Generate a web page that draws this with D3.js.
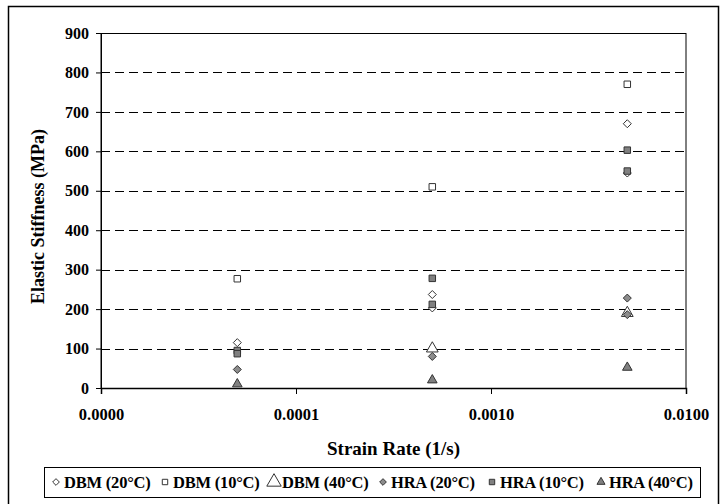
<!doctype html>
<html>
<head>
  <meta charset="utf-8">
  <title>d3</title>
  <style>
    body { margin: 0; background: #fff; }
    text { font-family: "Liberation Serif", "Times New Roman", serif; font-weight: bold; }
  </style>
</head>
<body>
  <svg width="727" height="504"></svg>
  <script src="https://cdn.jsdelivr.net/npm/d3@7"></script>
  <script>
    // strain rates tested (1/s)
    const rates = [0.00005, 0.0005, 0.005];
    const xTicks = [0.00001, 0.0001, 0.001, 0.01];
    const yTicks = [0, 100, 200, 300, 400, 500, 600, 700, 800, 900];

    // values per rate, one list per rate (replicates)
    const dbm20 = [[115], [237, 203], [670, 545]];
    const dbm10 = [[277], [510], [770]];
    const dbm40 = [[], [100], [190]];
    const hra20 = [[47], [80], [228, 186]];
    const hra10 = [[95, 87], [278, 212], [603, 550]];
    const hra40 = [[10], [20], [52]];

    // square diamond (Excel style), symmetric
    const diamond = {
      draw(ctx, size) {
        const r = Math.sqrt(size / 2);
        ctx.moveTo(0, -r); ctx.lineTo(r, 0); ctx.lineTo(0, r); ctx.lineTo(-r, 0); ctx.closePath();
      }
    };

    const series = [
      { name: 'DBM (20°C)', values: dbm20, shape: diamond, size: 32, fill: '#fff' },
      { name: 'DBM (10°C)', values: dbm10, shape: d3.symbolSquare, size: 42, fill: '#fff' },
      { name: 'DBM (40°C)', values: dbm40, shape: d3.symbolTriangle, size: 60, fill: '#fff' },
      { name: 'HRA (20°C)', values: hra20, shape: diamond, size: 32, fill: '#8c8c8c' },
      { name: 'HRA (10°C)', values: hra10, shape: d3.symbolSquare, size: 42, fill: '#808080' },
      { name: 'HRA (40°C)', values: hra40, shape: d3.symbolTriangle, size: 40, fill: '#808080' }
    ];

    const svg = d3.select('svg');

    // outer frame
    svg.append('rect')
      .attr('x', 8.5).attr('y', 6.5).attr('width', 710).attr('height', 500)
      .attr('fill', 'none').attr('stroke', '#000').attr('stroke-width', 1.5);

    const margin = { top: 33, left: 101, bottom: 116, right: 41 };
    const width = 727 - margin.left - margin.right;
    const height = 504 - margin.top - margin.bottom;
    const g = svg.append('g').attr('transform', `translate(${margin.left}, ${margin.top})`);

    const x = d3.scaleLog().domain([0.00001, 0.01]).range([0, width]);
    const y = d3.scaleLinear().domain([0, 900]).range([height, 0]);

    // dashed grid
    g.append('g')
      .selectAll('line')
      .data(yTicks.filter(d => d > 0 && d < 900))
      .join('line')
      .attr('x1', 0).attr('x2', width)
      .attr('y1', d => Math.round(y(d)) + 0.5).attr('y2', d => Math.round(y(d)) + 0.5)
      .attr('stroke', '#000')
      .attr('stroke-dasharray', '9,5');

    // plot frame
    g.append('rect')
      .attr('x', 0).attr('y', 0.5).attr('width', width).attr('height', height)
      .attr('fill', 'none').attr('stroke', '#000');

    // x axis
    g.append('g')
      .attr('transform', `translate(0, ${height})`)
      .call(d3.axisBottom(x).tickValues(xTicks).tickFormat(d3.format('.4f')).tickSizeOuter(0).tickSize(6).tickPadding(14))
      .call(a => a.select('.domain').attr('stroke-width', 1.5))
      .selectAll('text').attr('font-size', 16.5).attr('fill', '#000');

    // y axis
    g.append('g')
      .call(d3.axisLeft(y).tickValues(yTicks).tickSizeOuter(0).tickSize(5).tickPadding(7))
      .selectAll('text').attr('font-size', 16).attr('fill', '#000');

    // points
    series.forEach(s => {
      const pts = [];
      s.values.forEach((vals, i) => vals.forEach(v => pts.push({ rate: rates[i], v })));
      g.append('g')
        .selectAll('path')
        .data(pts)
        .join('path')
        .attr('transform', d => `translate(${x(d.rate)}, ${y(d.v)})`)
        .attr('d', d3.symbol().type(s.shape).size(s.size))
        .attr('fill', s.fill)
        .attr('stroke', '#333')
        .attr('stroke-width', 1);
    });

    // axis titles
    svg.append('text')
      .attr('x', margin.left + width / 2).attr('y', 455)
      .attr('text-anchor', 'middle').attr('font-size', 19)
      .text('Strain Rate (1/s)');
    svg.append('text')
      .attr('transform', `translate(44, ${margin.top + height / 2 + 6}) rotate(-90)`)
      .attr('text-anchor', 'middle').attr('font-size', 18)
      .text('Elastic Stiffness (MPa)');

    // legend
    const legend = svg.append('g');
    legend.append('rect')
      .attr('x', 44.5).attr('y', 467.5).attr('width', 656).attr('height', 30)
      .attr('fill', '#fff').attr('stroke', '#000');
    const itemX = d3.scalePoint().domain(series.map(s => s.name)).range([56, 601]);
    const items = legend.selectAll('g.item')
      .data(series)
      .join('g')
      .attr('class', 'item')
      .attr('transform', s => `translate(${itemX(s.name)}, 482)`);
    items.append('path')
      .attr('d', s => d3.symbol().type(s.shape).size(s.fill === '#fff' && s.shape === d3.symbolTriangle ? 90 : s.size * 0.7)())
      .attr('fill', s => s.fill)
      .attr('stroke', '#333');
    items.append('text')
      .attr('x', 8).attr('y', 5.5)
      .attr('font-size', 16.5)
      .attr('letter-spacing', -0.2)
      .text(s => s.name);
  </script>
</body>
</html>
